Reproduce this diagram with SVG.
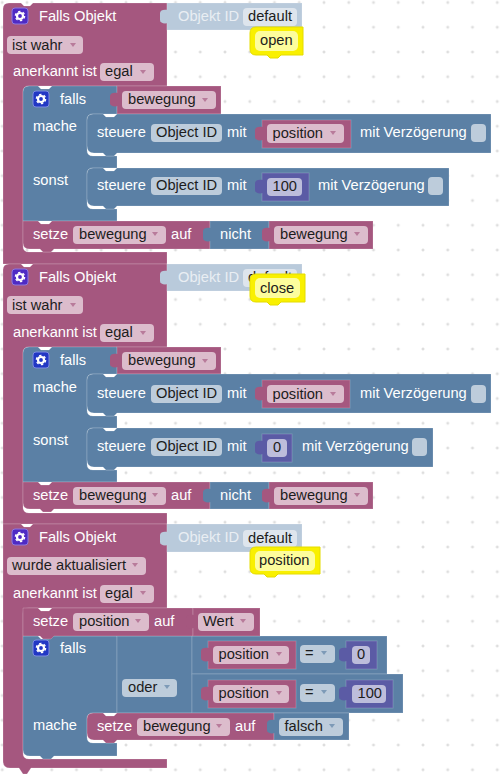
<svg xmlns="http://www.w3.org/2000/svg" width="502" height="777" viewBox="0 0 502 777">
<style>
text{font-family:"Liberation Sans",Arial,sans-serif;font-size:14.67px}
.w{fill:#fff}.d{fill:#1c1c1c}.o{fill:#e9eef3}
.p,.b,.v,.g{stroke:#fff;stroke-opacity:.18;stroke-width:1}
.p{fill:#a5577f}.b{fill:#5b80a5}.v{fill:#5b5ba5}.g{fill:#b9cadb}
use.p,use.b,use.v,use.g{stroke:none}
.fp{fill:#dcbccc}.fb{fill:#bdccdb}.fv{fill:#bdbddb}.fg{fill:#dee5ed}
.y{fill:#f9f000;stroke:#e4dc00;stroke-width:1}.yi{fill:#fdfd9c}
.ap{fill:#a5577f;fill-opacity:.65}.ab{fill:#5b80a5;fill-opacity:.65}
</style>
<defs>
<pattern id="grid" x="2.25" y="2.5" width="24.75" height="24.75" patternUnits="userSpaceOnUse">
<path d="M0,-1.5V1.5M-1.5,0H1.5M24.75,-1.5V1.5M23.25,0H26.25M0,23.25V26.25M-1.5,24.75H1.5M24.75,23.25V26.25M23.25,24.75H26.25" stroke="#d4d4d4" stroke-width="1" fill="none"/>
</pattern>
<path id="tab" d="M1,0C-3,-1 -7,0 -7,3V10C-7,13 -3,14 1,13Z"/>
<path id="ar" d="M-3,-2H3L0,2Z"/>
<g id="gear">
<circle r="3" fill="none" stroke="#fff" stroke-width="2.2"/>
<circle r="4.6" fill="none" stroke="#fff" stroke-width="1.4" stroke-dasharray="2.4 2.4"/>
</g>
</defs>
<rect width="502" height="777" fill="#fff"/>
<rect width="502" height="777" fill="url(#grid)"/>

<g id="block1">
<path class="p" d="M3,9Q3,3 9,3H21l3,3h6l3,-3H167V86H29Q23,86 23,92V246Q23,252 29,252H167V264H3Z"/>
<rect x="12" y="8" width="16" height="16" rx="3" fill="#4f2bc4" stroke="#8d78e0"/><use href="#gear" x="20" y="16"/>
<text class="w" x="39" y="21">Falls Objekt</text>
<g id="objid1">
<rect class="g" x="167" y="3" width="135" height="27"/><use href="#tab" x="167" y="10" class="g"/>
<text class="o" x="178" y="21">Objekt ID</text>
<rect class="fg" x="243" y="8" width="54" height="18" rx="4"/><text class="d" x="248" y="21">default</text>
</g>
<rect class="fp" x="7" y="36" width="76" height="18" rx="4"/><text class="d" x="12" y="49.5">ist wahr</text><use href="#ar" class="ap" x="73" y="45"/>
<text class="w" x="13" y="76">anerkannt ist</text>
<rect class="fp" x="100" y="63" width="54" height="18" rx="4"/><text class="d" x="105" y="76">egal</text><use href="#ar" class="ap" x="143" y="72"/>
<g id="falls1">
<path class="b" d="M23,92Q23,86 29,86H38l3,3h8l3,-3H117V114H93Q87,114 87,120V150Q87,156 93,156H117V168H93Q87,168 87,174V203Q87,209 93,209H117V221H23Z"/>
<rect x="33" y="91" width="16" height="16" rx="3" fill="#2238c4" stroke="#7d8ce0"/><use href="#gear" x="41" y="99"/>
<text class="w" x="60" y="104">falls</text><text class="w" x="33" y="131">mache</text><text class="w" x="33" y="185">sonst</text>
<rect class="p" x="117" y="86" width="104" height="28"/><use href="#tab" x="117" y="93" class="p"/>
<rect class="fp" x="122" y="91" width="94" height="18" rx="4"/><text class="d" x="128" y="104">bewegung</text><use href="#ar" class="ap" x="205" y="100"/>
</g>
<g id="steuere1a">
<path class="b" d="M87,120Q87,114 93,114H103l3,3h8l3,-3H491V153H117l-3,3h-8l-3,-3H94Q87,153 87,146Z"/>
<text class="w" x="97" y="137">steuere</text>
<rect class="fb" x="151" y="124" width="71" height="18" rx="4"/><text class="d" x="156" y="137">Object ID</text>
<text class="w" x="227" y="137">mit</text>
<rect class="p" x="262" y="120" width="89" height="28"/><use href="#tab" x="262" y="127" class="p"/>
<rect class="fp" x="267" y="124" width="77" height="19" rx="4"/><text class="d" x="272.500" y="138">position</text><use href="#ar" class="ap" x="333" y="133"/>
<text class="w" x="360" y="137">mit Verzögerung</text>
<rect class="fb" x="471" y="124" width="15" height="18" rx="4"/>
</g>
<g id="steuere1b">
<path class="b" d="M87,174Q87,168 93,168H103l3,3h8l3,-3H449V206H117l-3,3h-8l-3,-3H94Q87,206 87,199Z"/>
<text class="w" x="97" y="190">steuere</text>
<rect class="fb" x="151" y="177" width="71" height="18" rx="4"/><text class="d" x="156" y="190">Object ID</text>
<text class="w" x="227" y="190">mit</text>
<rect class="v" x="262" y="173" width="47" height="28"/><use href="#tab" x="262" y="180" class="v"/>
<rect class="fv" x="267" y="178" width="35" height="18" rx="4"/><text class="d" x="272.500" y="191">100</text>
<text class="w" x="318" y="190">mit Verzögerung</text>
<rect class="fb" x="428" y="177" width="15" height="18" rx="4"/>
</g>
<g id="setze1">
<path class="p" d="M23,221H38l3,3h8l3,-3H210V249H54l-3,3h-8l-3,-3H30Q23,249 23,243Z"/>
<text class="w" x="33" y="239">setze</text>
<rect class="fp" x="73" y="226" width="93" height="18" rx="4"/><text class="d" x="79" y="239">bewegung</text><use href="#ar" class="ap" x="155" y="234"/>
<text class="w" x="171" y="239">auf</text>
<rect class="b" x="210" y="221" width="59" height="28"/><use href="#tab" x="210" y="228" class="b"/>
<text class="w" x="220" y="239">nicht</text>
<rect class="p" x="269" y="221" width="104" height="28"/><use href="#tab" x="269" y="228" class="p"/>
<rect class="fp" x="274" y="226" width="94" height="18" rx="4"/><text class="d" x="280" y="239">bewegung</text><use href="#ar" class="ap" x="357" y="234"/>
</g>
<g id="comment1">
<path class="y" d="M256,27H303V55H281l-3,3h-8l-3,-3H256Q250,55 250,49V33Q250,27 256,27Z"/>
<rect class="yi" x="255" y="31" width="43" height="20" rx="5"/><text class="d" x="260" y="45">open</text>
</g>
</g>

<g id="block2">
<path class="p" d="M3,270Q3,264 9,264H21l3,3h6l3,-3H167V347H29Q23,347 23,353V507Q23,513 29,513H167V524H3Z"/>
<rect x="12" y="269" width="16" height="16" rx="3" fill="#4f2bc4" stroke="#8d78e0"/><use href="#gear" x="20" y="277"/>
<text class="w" x="39" y="282">Falls Objekt</text>
<g id="objid2">
<rect class="g" x="167" y="264" width="135" height="27"/><use href="#tab" x="167" y="271" class="g"/>
<text class="o" x="178" y="282">Objekt ID</text>
<rect class="fg" x="243" y="269" width="54" height="18" rx="4"/><text class="d" x="248" y="282">default</text>
</g>
<rect class="fp" x="7" y="296" width="76" height="18" rx="4"/><text class="d" x="12" y="309.500">ist wahr</text><use href="#ar" class="ap" x="73" y="305"/>
<text class="w" x="13" y="337">anerkannt ist</text>
<rect class="fp" x="100" y="324" width="54" height="18" rx="4"/><text class="d" x="105" y="337">egal</text><use href="#ar" class="ap" x="143" y="333"/>
<g id="falls2">
<path class="b" d="M23,353Q23,347 29,347H38l3,3h8l3,-3H117V374H93Q87,374 87,380V410Q87,416 93,416H117V428H93Q87,428 87,434V464Q87,470 93,470H117V482H23Z"/>
<rect x="33" y="352" width="16" height="16" rx="3" fill="#2238c4" stroke="#7d8ce0"/><use href="#gear" x="41" y="360"/>
<text class="w" x="60" y="365">falls</text><text class="w" x="33" y="392">mache</text><text class="w" x="33" y="445">sonst</text>
<rect class="p" x="117" y="347" width="104" height="27"/><use href="#tab" x="117" y="354" class="p"/>
<rect class="fp" x="122" y="352" width="94" height="18" rx="4"/><text class="d" x="128" y="365">bewegung</text><use href="#ar" class="ap" x="205" y="361"/>
</g>
<g id="steuere2a">
<path class="b" d="M87,380Q87,374 93,374H103l3,3h8l3,-3H491V413H117l-3,3h-8l-3,-3H94Q87,413 87,406Z"/>
<text class="w" x="97" y="398">steuere</text>
<rect class="fb" x="151" y="385" width="71" height="18" rx="4"/><text class="d" x="156" y="398">Object ID</text>
<text class="w" x="227" y="398">mit</text>
<rect class="p" x="262" y="380" width="88" height="28"/><use href="#tab" x="262" y="387" class="p"/>
<rect class="fp" x="267" y="385" width="77" height="18" rx="4"/><text class="d" x="272.500" y="399">position</text><use href="#ar" class="ap" x="333" y="394"/>
<text class="w" x="360" y="398">mit Verzögerung</text>
<rect class="fb" x="471" y="385" width="15" height="18" rx="4"/>
</g>
<g id="steuere2b">
<path class="b" d="M87,434Q87,428 93,428H103l3,3h8l3,-3H433V467H117l-3,3h-8l-3,-3H94Q87,467 87,460Z"/>
<text class="w" x="97" y="451">steuere</text>
<rect class="fb" x="151" y="438" width="71" height="18" rx="4"/><text class="d" x="156" y="451">Object ID</text>
<text class="w" x="227" y="451">mit</text>
<rect class="v" x="262" y="434" width="30" height="28"/><use href="#tab" x="262" y="441" class="v"/>
<rect class="fv" x="267" y="439" width="20" height="18" rx="4"/><text class="d" x="273" y="452">0</text>
<text class="w" x="302" y="451">mit Verzögerung</text>
<rect class="fb" x="412" y="438" width="15" height="18" rx="4"/>
</g>
<g id="setze2">
<path class="p" d="M23,482H38l3,3h8l3,-3H210V509H54l-3,3h-8l-3,-3H30Q23,509 23,503Z"/>
<text class="w" x="33" y="500">setze</text>
<rect class="fp" x="73" y="487" width="93" height="18" rx="4"/><text class="d" x="79" y="500">bewegung</text><use href="#ar" class="ap" x="155" y="495"/>
<text class="w" x="171" y="500">auf</text>
<rect class="b" x="210" y="482" width="59" height="27"/><use href="#tab" x="210" y="489" class="b"/>
<text class="w" x="220" y="500">nicht</text>
<rect class="p" x="269" y="482" width="104" height="27"/><use href="#tab" x="269" y="489" class="p"/>
<rect class="fp" x="274" y="487" width="94" height="18" rx="4"/><text class="d" x="280" y="500">bewegung</text><use href="#ar" class="ap" x="357" y="495"/>
</g>
<g id="comment2">
<path class="y" d="M256,274H305V302H281l-3,3h-8l-3,-3H256Q250,302 250,296V280Q250,274 256,274Z"/>
<rect class="yi" x="255" y="278" width="45" height="20" rx="5"/><text class="d" x="260" y="293">close</text>
</g>
</g>

<g id="block3">
<path class="p" d="M3,524H21l3,3h6l3,-3H167V608H29Q23,608 23,614V753Q23,759 29,759H167V768H31L27,774H23L19,768H10Q3,768 3,761Z"/>
<rect x="12" y="529" width="16" height="16" rx="3" fill="#4f2bc4" stroke="#8d78e0"/><use href="#gear" x="20" y="537"/>
<text class="w" x="39" y="542">Falls Objekt</text>
<g id="objid3">
<rect class="g" x="167" y="524" width="135" height="28"/><use href="#tab" x="167" y="532" class="g"/>
<text class="o" x="178" y="542">Objekt ID</text>
<rect class="fg" x="243" y="530" width="54" height="17" rx="4"/><text class="d" x="248" y="543">default</text>
</g>
<rect class="fp" x="7" y="557" width="139" height="18" rx="4"/><text class="d" x="12" y="570">wurde aktualisiert</text><use href="#ar" class="ap" x="135" y="565"/>
<text class="w" x="13" y="598">anerkannt ist</text>
<rect class="fp" x="100" y="585" width="54" height="18" rx="4"/><text class="d" x="105" y="598">egal</text><use href="#ar" class="ap" x="143" y="593"/>
<g id="falls3">
<path class="b" d="M23,636H38l3,3h8l3,-3H117V713H93Q87,713 87,719V737Q87,743 93,743H117V756H54l-3,3h-8l-3,-3H30Q23,756 23,750Z"/>
<rect x="33" y="640" width="16" height="16" rx="3" fill="#2238c4" stroke="#7d8ce0"/><use href="#gear" x="41" y="648"/>
<text class="w" x="60" y="653">falls</text><text class="w" x="33" y="730">mache</text>
</g>
<g id="oder">
<rect class="b" x="117" y="636" width="75" height="77"/>
<rect class="fb" x="122" y="679" width="55" height="18" rx="4"/><text class="d" x="128" y="692">oder</text><use href="#ar" class="ab" x="167" y="687"/>
</g>
<g id="cmp1">
<rect class="b" x="192" y="636" width="195" height="38"/>
<rect class="p" x="208" y="641" width="88" height="28"/><use href="#tab" x="208" y="648" class="p"/>
<rect class="fp" x="213" y="646" width="76" height="18" rx="4"/><text class="d" x="218.500" y="659">position</text><use href="#ar" class="ap" x="279" y="654"/>
<rect class="fb" x="300" y="645" width="35" height="18" rx="4"/><text class="d" x="305" y="658">=</text><use href="#ar" class="ab" x="324" y="653"/>
<rect class="v" x="346" y="641" width="31" height="28"/><use href="#tab" x="346" y="648" class="v"/>
<rect class="fv" x="352" y="646" width="18" height="18" rx="4"/><text class="d" x="357" y="659">0</text>
</g>
<g id="cmp2">
<rect class="b" x="192" y="674" width="211" height="39"/>
<rect class="p" x="208" y="680" width="88" height="28"/><use href="#tab" x="208" y="687" class="p"/>
<rect class="fp" x="213" y="685" width="76" height="18" rx="4"/><text class="d" x="218.500" y="698">position</text><use href="#ar" class="ap" x="279" y="693"/>
<rect class="fb" x="300" y="684" width="35" height="18" rx="4"/><text class="d" x="305" y="697">=</text><use href="#ar" class="ab" x="324" y="692"/>
<rect class="v" x="346" y="680" width="47" height="28"/><use href="#tab" x="346" y="687" class="v"/>
<rect class="fv" x="352" y="685" width="34" height="18" rx="4"/><text class="d" x="357.500" y="698">100</text>
</g>
<g id="setze3a">
<path class="p" d="M23,608H38l3,3h8l3,-3H193V636H54l-3,3h-8l-3,-3H23Z"/>
<text class="w" x="33" y="626">setze</text>
<rect class="fp" x="73" y="613" width="76" height="18" rx="4"/><text class="d" x="79" y="626">position</text><use href="#ar" class="ap" x="138" y="621"/>
<text class="w" x="154" y="626">auf</text>
<rect class="p" x="193" y="608" width="67" height="28"/><use href="#tab" x="193" y="615" class="p"/>
<rect class="fp" x="198" y="613" width="56" height="18" rx="4"/><text class="d" x="203" y="626">Wert</text><use href="#ar" class="ap" x="243" y="621"/>
</g>
<g id="setze3b">
<path class="p" d="M87,719Q87,713 93,713H103l3,3h8l3,-3H274V740H117l-3,3h-8l-3,-3H94Q87,740 87,733Z"/>
<text class="w" x="97" y="731">setze</text>
<rect class="fp" x="137" y="718" width="93" height="18" rx="4"/><text class="d" x="143" y="731">bewegung</text><use href="#ar" class="ap" x="219" y="726"/>
<text class="w" x="235" y="731">auf</text>
<rect class="b" x="274" y="713" width="75" height="27"/><use href="#tab" x="274" y="720" class="b"/>
<rect class="fb" x="279" y="718" width="64" height="18" rx="4"/><text class="d" x="284.500" y="731">falsch</text><use href="#ar" class="ab" x="332" y="726"/>
</g>
<g id="comment3">
<path class="y" d="M256,547H320V574H278l-3,3h-8l-3,-3H256Q250,574 250,568V553Q250,547 256,547Z"/>
<rect class="yi" x="255" y="551" width="60" height="20" rx="5"/><text class="d" x="259" y="565">position</text>
</g>
</g>
</svg>
